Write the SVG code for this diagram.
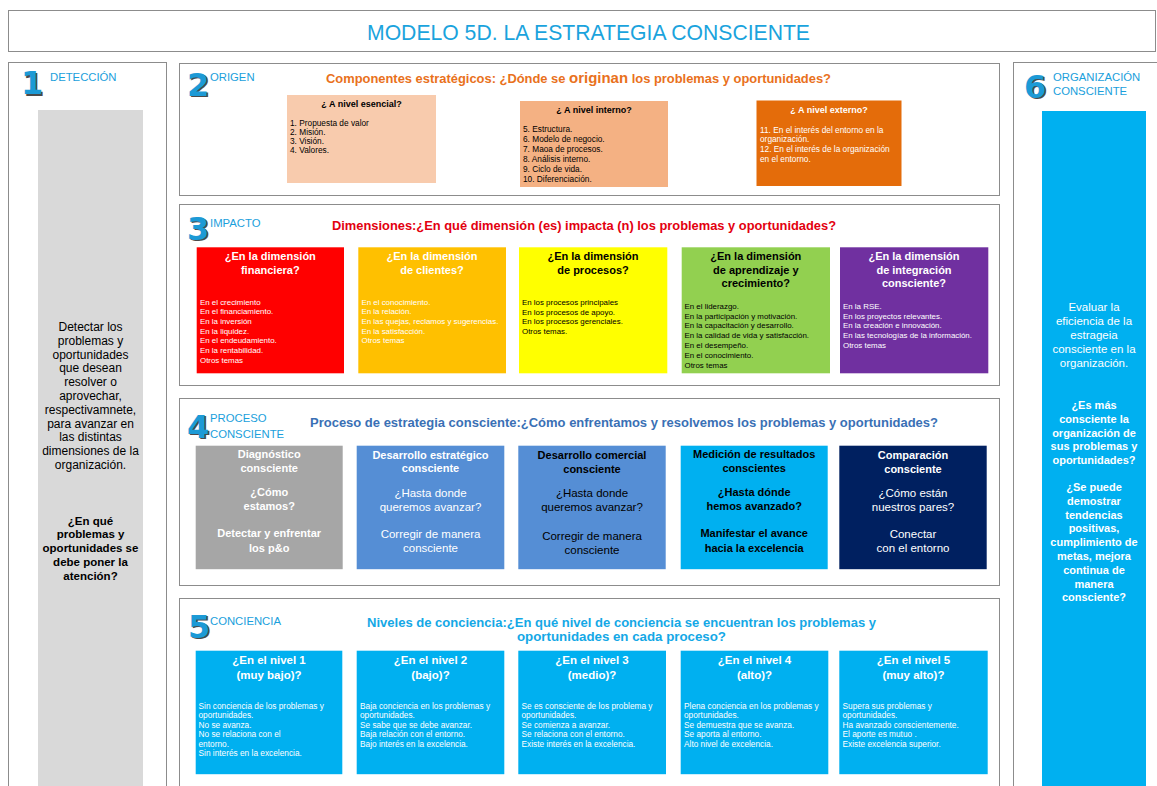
<svg xmlns="http://www.w3.org/2000/svg" width="1157" height="786" viewBox="0 0 1157 786">
<style>
text{font-family:"Liberation Sans",Arial,sans-serif}
.panel{fill:#fff;stroke:#8c8c8c;stroke-width:1}
.num{font-family:"DejaVu Sans","Liberation Sans",sans-serif;font-weight:bold;font-size:32px;fill:#1c9ad6}
.nums{font-family:"DejaVu Sans","Liberation Sans",sans-serif;font-weight:bold;font-size:32px;fill:#4a4a4a}
.lab{font-size:11.3px;fill:#1aa0dc}
.sec{font-weight:bold;font-size:12.5px}
.bt{font-weight:bold;font-size:9px}
.it{font-size:8.3px}
.t3{font-weight:bold;font-size:11px;text-anchor:middle}
.i3{font-size:7.9px}
.b4{font-weight:bold;font-size:11px;text-anchor:middle}
.r4{font-size:11.5px;text-anchor:middle}
.t5{font-weight:bold;font-size:11.5px;text-anchor:middle;fill:#fff}
.i5{font-size:8.3px;fill:#fff}
.side{font-size:12px;text-anchor:middle}
.sideb{font-weight:bold;font-size:11.5px;text-anchor:middle}
.w{fill:#fff}
.k{fill:#000}
</style>

<g id="title">
<rect x="8.5" y="10.5" width="1147" height="41" fill="#fff" stroke="#8c8c8c"/>
<text x="367" y="40" font-size="22" fill="#1aa3dd" textLength="443" lengthAdjust="spacingAndGlyphs">MODELO 5D. LA ESTRATEGIA CONSCIENTE</text>
</g>

<g id="panel1">
<rect class="panel" x="8.5" y="62.5" width="158" height="740"/>
<text class="nums" x="22.5" y="95.5">1</text>
<text class="num" x="21" y="94">1</text>
<text class="lab" x="50" y="80.5">DETECCIÓN</text>
<rect x="38" y="110" width="105" height="690" fill="#d9d9d9"/>
<g class="side" fill="#000">
<text x="90.5" y="331">Detectar los</text>
<text x="90.5" y="344.8">problemas y</text>
<text x="90.5" y="358.6">oportunidades</text>
<text x="90.5" y="372.4">que desean</text>
<text x="90.5" y="386.2">resolver o</text>
<text x="90.5" y="400">aprovechar,</text>
<text x="90.5" y="413.8">respectivamnete,</text>
<text x="90.5" y="427.6">para avanzar en</text>
<text x="90.5" y="441.4">las distintas</text>
<text x="90.5" y="455.2">dimensiones de la</text>
<text x="90.5" y="469">organización.</text>
</g>
<g class="sideb" fill="#000">
<text x="90.5" y="524.5">¿En qué</text>
<text x="90.5" y="538.3">problemas y</text>
<text x="90.5" y="552.1">oportunidades se</text>
<text x="90.5" y="565.9">debe poner la</text>
<text x="90.5" y="579.7">atención?</text>
</g>
</g>

<g id="panel6">
<rect class="panel" x="1013.5" y="62.5" width="150" height="740"/>
<text class="nums" x="1025.5" y="99">6</text>
<text class="num" x="1024" y="97.5">6</text>
<text class="lab" x="1053" y="80.5">ORGANIZACIÓN</text>
<text class="lab" x="1053" y="95">CONSCIENTE</text>
<rect x="1042" y="111" width="104" height="690" fill="#00b0f0"/>
<g class="side" fill="#fff">
<text x="1094" y="311" font-size="11.5">Evaluar la</text>
<text x="1094" y="325" font-size="11.5">eficiencia de la</text>
<text x="1094" y="339" font-size="11.5">estrageia</text>
<text x="1094" y="353" font-size="11.5">consciente en la</text>
<text x="1094" y="367" font-size="11.5">organización.</text>
</g>
<g class="sideb" fill="#fff">
<text x="1094" y="409" font-size="11">¿Es más</text>
<text x="1094" y="422.8" font-size="11">consciente la</text>
<text x="1094" y="436.6" font-size="11">organización de</text>
<text x="1094" y="450.4" font-size="11">sus problemas y</text>
<text x="1094" y="464.2" font-size="11">oportunidades?</text>
<text x="1094" y="491" font-size="11">¿Se puede</text>
<text x="1094" y="504.8" font-size="11">demostrar</text>
<text x="1094" y="518.6" font-size="11">tendencias</text>
<text x="1094" y="532.4" font-size="11">positivas,</text>
<text x="1094" y="546.2" font-size="11">cumplimiento de</text>
<text x="1094" y="560" font-size="11">metas, mejora</text>
<text x="1094" y="573.8" font-size="11">continua de</text>
<text x="1094" y="587.6" font-size="11">manera</text>
<text x="1094" y="601.4" font-size="11">consciente?</text>
</g>
</g>

<g id="section2">
<rect class="panel" x="179.5" y="63.5" width="820" height="132"/>
<text class="nums" x="188.5" y="97">2</text>
<text class="num" x="187" y="95.5">2</text>
<text class="lab" x="210" y="81">ORIGEN</text>
<text class="sec" x="326" y="83" fill="#e9711c" textLength="505" lengthAdjust="spacingAndGlyphs">Componentes estratégicos: ¿Dónde se <tspan font-size="14.5">originan</tspan> los problemas y oportunidades?</text>
</g>
<g id="esencial">
<rect x="287" y="95" width="149" height="88" fill="#f8cbad"/>
<text class="bt" x="361.5" y="106.5" text-anchor="middle">¿ A nivel esencial?</text>
<g class="it">
<text x="290" y="125.5">1. Propuesta de valor</text>
<text x="290" y="134.7">2. Misión.</text>
<text x="290" y="143.9">3. Visión.</text>
<text x="290" y="153.1">4. Valores.</text>
</g>
</g>
<g id="interno">
<rect x="520" y="101" width="148" height="86" fill="#f4b183"/>
<text class="bt" x="594" y="113.2" text-anchor="middle">¿ A nivel interno?</text>
<g class="it">
<text x="523" y="131.8">5. Estructura.</text>
<text x="523" y="141.8">6. Modelo de negocio.</text>
<text x="523" y="151.8">7. Maoa de procesos.</text>
<text x="523" y="161.8">8. Análisis interno.</text>
<text x="523" y="171.8">9. Ciclo de vida.</text>
<text x="523" y="181.8">10. Diferenciación.</text>
</g>
</g>
<g id="externo">
<rect x="756.5" y="100.5" width="145" height="85.5" fill="#e46c0a"/>
<text class="bt w" x="829" y="113.2" text-anchor="middle">¿ A nivel externo?</text>
<g class="it w">
<text x="760" y="132.7">11. En el interés del entorno en la</text>
<text x="760" y="142.2">organización.</text>
<text x="760" y="152">12. En el interés de la organización</text>
<text x="760" y="161.7">en el entorno.</text>
</g>
</g>

<g id="section3">
<rect class="panel" x="179.5" y="204.5" width="820" height="181"/>
<text class="nums" x="188.5" y="241">3</text>
<text class="num" x="187" y="239.5">3</text>
<text class="lab" x="210" y="226.5">IMPACTO</text>
<text class="sec" x="332" y="229.5" fill="#e3000f" textLength="504" lengthAdjust="spacingAndGlyphs">Dimensiones:¿En qué dimensión (es) impacta (n) los problemas y oportunidades?</text>
</g>
<g id="financiera">
<rect x="196.7" y="247.3" width="147.3" height="126" fill="#ff0000"/>
<text class="t3 w" x="270.3" y="260">¿En la dimensión</text>
<text class="t3 w" x="270.3" y="273.5">financiera?</text>
<g class="i3 w">
<text x="200" y="304.6">En el crecimiento</text>
<text x="200" y="314.3">En el financiamiento.</text>
<text x="200" y="324">En la inversión</text>
<text x="200" y="333.7">En la liquidez.</text>
<text x="200" y="343.4">En el endeudamiento.</text>
<text x="200" y="353.1">En la rentabilidad.</text>
<text x="200" y="362.8">Otros temas</text>
</g>
</g>
<g id="clientes">
<rect x="358.3" y="247.3" width="147.7" height="126" fill="#ffc000"/>
<text class="t3 w" x="432" y="260">¿En la dimensión</text>
<text class="t3 w" x="432" y="273.5">de clientes?</text>
<g class="i3 w">
<text x="361.5" y="304.6">En el conocimiento.</text>
<text x="361.5" y="314.3">En la relación.</text>
<text x="361.5" y="324">En las quejas, reclamos y sugerencias.</text>
<text x="361.5" y="333.7">En la satisfacción.</text>
<text x="361.5" y="343.4">Otros temas</text>
</g>
</g>
<g id="procesos">
<rect x="519" y="247.3" width="148.3" height="126" fill="#ffff00"/>
<text class="t3 k" x="593" y="260">¿En la dimensión</text>
<text class="t3 k" x="593" y="273.5">de procesos?</text>
<g class="i3 k">
<text x="522" y="305">En los  procesos principales</text>
<text x="522" y="314.5">En los procesos de apoyo.</text>
<text x="522" y="324">En  los procesos gerenciales.</text>
<text x="522" y="333.5">Otros temas.</text>
</g>
</g>
<g id="aprendizaje">
<rect x="681.7" y="247.3" width="148.3" height="126" fill="#92d050"/>
<text class="t3 k" x="755.8" y="260">¿En la dimensión</text>
<text class="t3 k" x="755.8" y="273.5">de aprendizaje y</text>
<text class="t3 k" x="755.8" y="287">crecimiento?</text>
<g class="i3 k">
<text x="684.5" y="308.8">En el liderazgo.</text>
<text x="684.5" y="318.6">En la participación y motivación.</text>
<text x="684.5" y="328.4">En la capacitación y desarrollo.</text>
<text x="684.5" y="338.2">En la calidad de vida y satisfacción.</text>
<text x="684.5" y="348">En el desempeño.</text>
<text x="684.5" y="357.8">En el conocimiento.</text>
<text x="684.5" y="367.6">Otros temas</text>
</g>
</g>
<g id="integracion">
<rect x="840" y="247.3" width="148.3" height="126" fill="#7030a0"/>
<text class="t3 w" x="914" y="260">¿En la dimensión</text>
<text class="t3 w" x="914" y="273.5">de integración</text>
<text class="t3 w" x="914" y="287">consciente?</text>
<g class="i3 w">
<text x="843" y="308.8">En la RSE.</text>
<text x="843" y="318.6">En los proyectos relevantes.</text>
<text x="843" y="328.4">En la creación e innovación.</text>
<text x="843" y="338.2">En las tecnologías de la información.</text>
<text x="843" y="348">Otros temas</text>
</g>
</g>

<g id="section4">
<rect class="panel" x="179.5" y="398.5" width="820" height="187"/>
<text class="nums" x="188.5" y="439">4</text>
<text class="num" x="187" y="437.5">4</text>
<text class="lab" x="210" y="421.5" font-size="11.8">PROCESO</text>
<text class="lab" x="210" y="437.5" font-size="11.8">CONSCIENTE</text>
<text class="sec" x="310" y="426.5" fill="#3a70b5" textLength="628" lengthAdjust="spacingAndGlyphs">Proceso de estrategia consciente:¿Cómo enfrentamos y resolvemos los problemas y oportunidades?</text>
</g>
<g id="diagnostico">
<rect x="195.7" y="445.7" width="147" height="123.5" fill="#a6a6a6"/>
<text class="b4 w" x="269.2" y="458.3">Diagnóstico</text>
<text class="b4 w" x="269.2" y="471.8">consciente</text>
<text class="b4 w" x="269.2" y="495.8">¿Cómo</text>
<text class="b4 w" x="269.2" y="509.8">estamos?</text>
<text class="b4 w" x="269.2" y="537.4">Detectar y enfrentar</text>
<text class="b4 w" x="269.2" y="551.8">los p&amp;o</text>
</g>
<g id="estrategico">
<rect x="356.7" y="445.7" width="147.6" height="123.5" fill="#558ed5"/>
<text class="b4 w" x="430.5" y="459">Desarrollo estratégico</text>
<text class="b4 w" x="430.5" y="472.4">consciente</text>
<text class="r4 w" x="430.5" y="496.8">¿Hasta donde</text>
<text class="r4 w" x="430.5" y="510.8">queremos avanzar?</text>
<text class="r4 w" x="430.5" y="538.4">Corregir de manera</text>
<text class="r4 w" x="430.5" y="552.4">consciente</text>
</g>
<g id="comercial">
<rect x="518.3" y="445.7" width="147.4" height="123.5" fill="#558ed5"/>
<text class="b4 k" x="592" y="459">Desarrollo comercial</text>
<text class="b4 k" x="592" y="473">consciente</text>
<text class="r4 k" x="592" y="496.8">¿Hasta donde</text>
<text class="r4 k" x="592" y="510.8">queremos avanzar?</text>
<text class="r4 k" x="592" y="540">Corregir de manera</text>
<text class="r4 k" x="592" y="554">consciente</text>
</g>
<g id="medicion">
<rect x="680.7" y="445.7" width="147" height="123.5" fill="#00b0f0"/>
<text class="b4 k" x="754.2" y="458.3">Medición de resultados</text>
<text class="b4 k" x="754.2" y="472.3">conscientes</text>
<text class="b4 k" x="754.2" y="496.3">¿Hasta dónde</text>
<text class="b4 k" x="754.2" y="510">hemos avanzado?</text>
<text class="b4 k" x="754.2" y="537.3">Manifestar el avance</text>
<text class="b4 k" x="754.2" y="551.7">hacia la excelencia</text>
</g>
<g id="comparacion">
<rect x="839.3" y="445.7" width="147.4" height="123.5" fill="#002060"/>
<text class="b4 w" x="913" y="459">Comparación</text>
<text class="b4 w" x="913" y="473">consciente</text>
<text class="r4 w" x="913" y="496.8">¿Cómo están</text>
<text class="r4 w" x="913" y="510.8">nuestros pares?</text>
<text class="r4 w" x="913" y="538.4">Conectar</text>
<text class="r4 w" x="913" y="552.4">con el entorno</text>
</g>

<g id="section5">
<rect class="panel" x="179.5" y="598.5" width="820" height="200"/>
<text class="nums" x="189.5" y="639">5</text>
<text class="num" x="188" y="637.5">5</text>
<text class="lab" x="210" y="624.5">CONCIENCIA</text>
<text class="sec" x="367" y="627" fill="#14a8e6" textLength="509" lengthAdjust="spacingAndGlyphs">Niveles de conciencia:¿En qué nivel de conciencia se encuentran los problemas y</text>
<text class="sec" x="517" y="640.5" fill="#14a8e6" textLength="209" lengthAdjust="spacingAndGlyphs">oportunidades en cada proceso?</text>
</g>
<g id="nivel1">
<rect x="195.7" y="650.7" width="146.6" height="123.5" fill="#00b0f0"/>
<text class="t5" x="269" y="664.2">¿En el nivel 1</text>
<text class="t5" x="269" y="678.5">(muy bajo)?</text>
<g class="i5">
<text x="198.5" y="708.8">Sin conciencia de los problemas y</text>
<text x="198.5" y="718.4">oportunidades.</text>
<text x="198.5" y="727.8">No se avanza.</text>
<text x="198.5" y="737.1">No se relaciona con el</text>
<text x="198.5" y="746.7">entorno.</text>
<text x="198.5" y="756.4">Sin interés en la excelencia.</text>
</g>
</g>
<g id="nivel2">
<rect x="356.7" y="650.7" width="147.6" height="123.5" fill="#00b0f0"/>
<text class="t5" x="430.5" y="664.2">¿En el nivel 2</text>
<text class="t5" x="430.5" y="678.5">(bajo)?</text>
<g class="i5">
<text x="360" y="708.8">Baja conciencia en los problemas y</text>
<text x="360" y="718.4">oportunidades.</text>
<text x="360" y="727.8">Se sabe que se debe avanzar.</text>
<text x="360" y="737.1">Baja relación con el entorno.</text>
<text x="360" y="746.7">Bajo interés en la excelencia.</text>
</g>
</g>
<g id="nivel3">
<rect x="518.3" y="650.7" width="147.7" height="123.5" fill="#00b0f0"/>
<text class="t5" x="592" y="664.2">¿En el nivel 3</text>
<text class="t5" x="592" y="678.5">(medio)?</text>
<g class="i5">
<text x="521.5" y="708.8">Se es consciente de los  problema y</text>
<text x="521.5" y="718.4">oportunidades.</text>
<text x="521.5" y="727.8">Se comienza a avanzar.</text>
<text x="521.5" y="737.1">Se relaciona con el entorno.</text>
<text x="521.5" y="746.7">Existe interés en la excelencia.</text>
</g>
</g>
<g id="nivel4">
<rect x="680.7" y="650.7" width="147.6" height="123.5" fill="#00b0f0"/>
<text class="t5" x="754.5" y="664.2">¿En el nivel 4</text>
<text class="t5" x="754.5" y="678.5">(alto)?</text>
<g class="i5">
<text x="684" y="708.8">Plena conciencia en los problemas y</text>
<text x="684" y="718.4">oportunidades.</text>
<text x="684" y="727.8">Se demuestra que se avanza.</text>
<text x="684" y="737.1">Se aporta al entorno.</text>
<text x="684" y="746.7">Alto nivel de excelencia.</text>
</g>
</g>
<g id="nivel5">
<rect x="839.3" y="650.7" width="148.4" height="123.5" fill="#00b0f0"/>
<text class="t5" x="913.5" y="664.2">¿En el nivel 5</text>
<text class="t5" x="913.5" y="678.5">(muy alto)?</text>
<g class="i5">
<text x="842.5" y="708.8">Supera sus problemas y</text>
<text x="842.5" y="718.4">oportunidades.</text>
<text x="842.5" y="727.8">Ha avanzado  conscientemente.</text>
<text x="842.5" y="737.1">El aporte es mutuo .</text>
<text x="842.5" y="746.7">Existe excelencia superior.</text>
</g>
</g>

<g id="connectors"></g>
</svg>
